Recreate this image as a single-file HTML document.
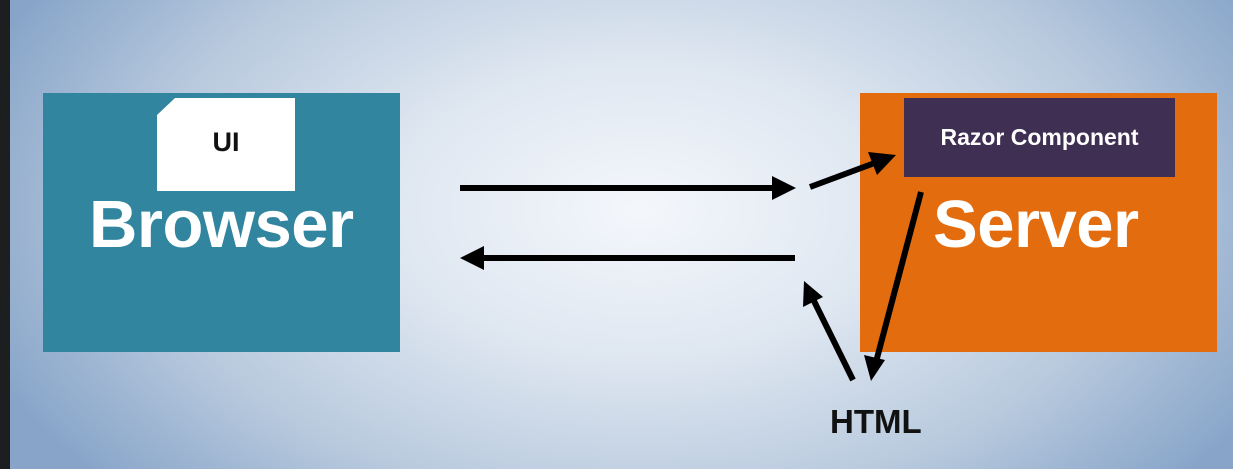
<!DOCTYPE html>
<html><head><style>
html,body{margin:0;padding:0}
body{width:1233px;height:469px;position:relative;overflow:hidden;font-family:"Liberation Sans",sans-serif;
background:radial-gradient(ellipse 700px 420px at 640px 210px,#f4f7fb 0%,#dfe7f1 35%,#b9cade 70%,#88a5c9 100%);}
.strip{position:absolute;left:0;top:0;width:10px;height:469px;background:#1d1e20}
.box{position:absolute}
.t{position:absolute;font-weight:bold;white-space:nowrap}
</style></head><body>
<div class="strip"></div>
<div class="box" style="left:43px;top:93px;width:357px;height:259px;background:#31859e"></div>
<svg class="box" style="left:0;top:0" width="1233" height="469">
<polygon points="175,98 295,98 295,191 157,191 157,115" fill="#fff"/>
</svg>
<div class="t" style="left:157px;top:127px;width:138px;text-align:center;font-size:27px;color:#111">UI</div>
<div class="t" style="left:89px;top:186px;font-size:67px;color:#fff;letter-spacing:-0.5px">Browser</div>
<div class="box" style="left:860px;top:93px;width:357px;height:259px;background:#e36c0f"></div>
<div class="box" style="left:904px;top:98px;width:271px;height:79px;background:#3f2f53"></div>
<div class="t" style="left:904px;top:124px;width:271px;text-align:center;font-size:23px;color:#fff">Razor Component</div>
<div class="t" style="left:933px;top:186px;font-size:67px;color:#fff;letter-spacing:-0.5px">Server</div>
<div class="t" style="left:830px;top:403px;font-size:33px;color:#111">HTML</div>
<svg class="box" style="left:0;top:0" width="1233" height="469">
<g stroke="#000" stroke-width="6" fill="none">
<line x1="460" y1="188" x2="780" y2="188"/>
<line x1="795" y1="258" x2="475" y2="258"/>
<line x1="810" y1="187" x2="880" y2="161"/>
<line x1="921" y1="192" x2="876" y2="362"/>
<line x1="853" y1="380" x2="812" y2="297"/>
</g>
<g fill="#000">
<polygon points="796,188 772,176 772,200"/>
<polygon points="460,258 484,246 484,270"/>
<polygon points="896,155 868,152 877,175"/>
<polygon points="871,381 864,355 885,360"/>
<polygon points="804,281 803,307 823,297"/>
</g>
</svg>
</body></html>
